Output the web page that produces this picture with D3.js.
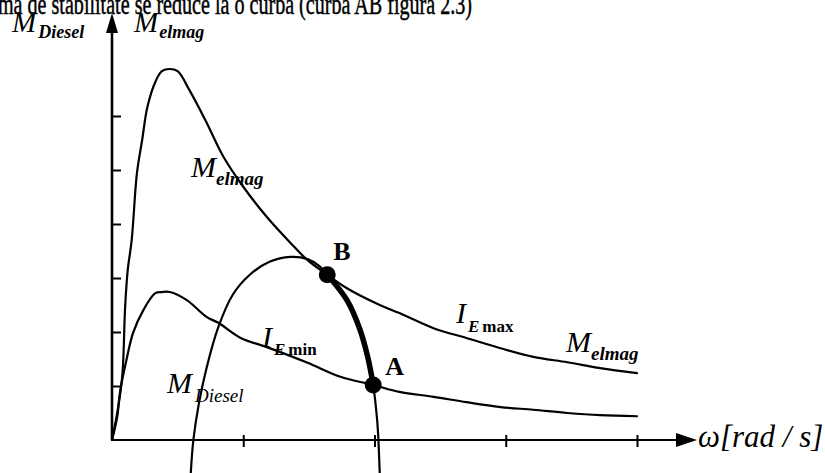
<!DOCTYPE html>
<html>
<head>
<meta charset="utf-8">
<script src="https://cdn.jsdelivr.net/npm/d3@7"></script>
<style>
  html, body { margin: 0; padding: 0; background: #fff; }
  svg { display: block; }
  text { font-family: "Liberation Serif", "Times New Roman", serif; fill: #000; }
</style>
</head>
<body>
<svg id="chart" width="825" height="473"></svg>
<script>
// Speed axis ticks (relative units) and torque axis ticks
const omegaTicks = [1, 2, 3, 4];
const torqueTicks = [1, 2, 3, 4, 5, 6];

// Electromagnetic torque at maximum excitation current (I_E max): [omega, M]
const elmagMax = [
  [0, 0], [0.05, 0.65], [0.08, 1.24], [0.10, 2.46], [0.12, 3.15], [0.15, 3.70],
  [0.19, 4.94], [0.23, 5.56], [0.27, 6.17], [0.33, 6.63], [0.38, 6.83], [0.44, 6.87],
  [0.50, 6.83], [0.59, 6.48], [0.71, 5.93], [0.85, 5.24], [1.00, 4.69], [1.18, 4.13],
  [1.36, 3.65], [1.49, 3.33], [1.64, 3.06], [1.79, 2.81], [2.04, 2.50], [2.19, 2.35],
  [2.45, 2.07], [2.70, 1.89], [2.96, 1.70], [3.21, 1.54], [3.47, 1.44], [3.72, 1.33],
  [4.00, 1.24]
];

// Electromagnetic torque at minimum excitation current (I_E min)
const elmagMin = [
  [0, 0], [0.04, 0.43], [0.06, 0.87], [0.11, 1.48], [0.16, 1.98], [0.24, 2.41],
  [0.33, 2.72], [0.38, 2.74], [0.44, 2.74], [0.57, 2.59], [0.72, 2.28], [0.81, 2.17],
  [0.98, 1.89], [1.18, 1.72], [1.49, 1.43], [1.74, 1.17], [1.99, 1.02], [2.19, 0.89],
  [2.45, 0.80], [2.70, 0.70], [2.96, 0.61], [3.21, 0.56], [3.47, 0.50], [3.72, 0.46],
  [4.00, 0.44]
];

// Diesel engine torque characteristic
const diesel = [
  [0.60, -0.62], [0.62, 0], [0.66, 0.65], [0.72, 1.33], [0.81, 2.09], [0.92, 2.69],
  [1.05, 3.06], [1.20, 3.30], [1.36, 3.39], [1.49, 3.35], [1.58, 3.22], [1.64, 3.06],
  [1.79, 2.59], [1.89, 2.04], [1.95, 1.52], [1.99, 1.02], [2.02, 0.37], [2.03, 0],
  [2.04, -0.62]
];

// Stable operating points: B (on I_E max) and A (on I_E min)
const pointB = [1.64, 3.06];
const pointA = [1.99, 1.02];

const svg = d3.select("#chart");

const x = d3.scaleLinear().domain([0, 4]).range([112, 637]);
const y = d3.scaleLinear().domain([0, 6]).range([440, 116]);

const line = d3.line()
  .x(d => x(d[0]))
  .y(d => y(d[1]))
  .curve(d3.curveCatmullRom.alpha(0.5));

// Heading line of the surrounding text (its top runs off the page)
svg.append("text")
  .attr("x", -2).attr("y", 14)
  .attr("font-size", 30)
  .attr("stroke", "#000").attr("stroke-width", 0.5)
  .attr("textLength", 474)
  .attr("lengthAdjust", "spacingAndGlyphs")
  .text("ma de stabilitate se reduce la o curba (curba AB figura 2.3)");

// Axes
const ax = svg.append("g").attr("stroke", "#000");
ax.append("line")
  .attr("x1", x(0)).attr("y1", y(0))
  .attr("x2", x(0)).attr("y2", 30)
  .attr("stroke-width", 2.6);
ax.append("path")
  .attr("d", `M${x(0)},13 L${x(0) - 6},33 L${x(0) + 6},33 Z`)
  .attr("fill", "#000").attr("stroke", "none");
ax.append("line")
  .attr("x1", x(0)).attr("y1", y(0))
  .attr("x2", 680).attr("y2", y(0))
  .attr("stroke-width", 2.2);
ax.append("path")
  .attr("d", `M697,${y(0)} L676,${y(0) - 7} L676,${y(0) + 7} Z`)
  .attr("fill", "#000").attr("stroke", "none");

// Tick marks
const yAxis = d3.axisRight(y).tickValues(torqueTicks).tickSize(10).tickFormat("");
const gy = svg.append("g").attr("transform", `translate(${x(0) - 1},0)`).call(yAxis);
gy.select(".domain").remove();
gy.selectAll(".tick line").attr("stroke", "#000").attr("stroke-width", 2);

const xAxis = d3.axisBottom(x).tickValues(omegaTicks).tickSize(12).tickFormat("");
const gx = svg.append("g").attr("transform", `translate(0,${y(0) - 5})`).call(xAxis);
gx.select(".domain").remove();
gx.selectAll(".tick line").attr("stroke", "#000").attr("stroke-width", 2);

// Curves
const curves = svg.append("g").attr("fill", "none").attr("stroke", "#000")
  .attr("stroke-linejoin", "round").attr("stroke-linecap", "round");
curves.append("path").attr("d", line(elmagMax)).attr("stroke-width", 2.2);
curves.append("path").attr("d", line(elmagMin)).attr("stroke-width", 2.2);
curves.append("path").attr("d", line(diesel)).attr("stroke-width", 2.2);

// Stable segment B–A along the diesel curve
const iB = diesel.findIndex(d => d[0] === pointB[0] && d[1] === pointB[1]);
const iA = diesel.findIndex(d => d[0] === pointA[0] && d[1] === pointA[1]);
curves.append("path").attr("d", line(diesel.slice(iB, iA + 1))).attr("stroke-width", 5.5);

svg.selectAll("circle.op").data([pointB, pointA]).join("circle")
  .attr("class", "op")
  .attr("cx", d => x(d[0])).attr("cy", d => y(d[1]))
  .attr("r", 8.5).attr("fill", "#000");

// Labels: main letter + subscript
function label(px, py, main, sub, opts) {
  const o = Object.assign({ size: 30, subSize: 19, dx: 0, dy: 8, subWeight: "bold", subStyle: "italic" }, opts || {});
  const t = svg.append("text").attr("x", px).attr("y", py)
    .attr("font-size", o.size).attr("font-style", "italic");
  t.append("tspan").text(main);
  if (sub) {
    t.append("tspan").attr("dx", o.dx).attr("dy", o.dy)
      .attr("font-size", o.subSize).attr("font-weight", o.subWeight)
      .attr("font-style", o.subStyle).text(sub);
  }
  return t;
}

label(12, 32, "M", "Diesel", { size: 29, dy: 6, dx: 2, subSize: 18 });
label(134, 32, "M", "elmag", { size: 29, dy: 6, dx: 1, subSize: 18 });
label(191, 177, "M", "elmag", { dy: 8, dx: 0 });
label(566, 352, "M", "elmag", { dy: 8, dx: 0 });
label(167, 393, "M", "Diesel", { dy: 9, dx: 3, subWeight: "normal", subSize: 19 });

// Excitation current labels
const iMax = svg.append("text").attr("x", 456).attr("y", 323).attr("font-size", 30).attr("font-style", "italic");
iMax.append("tspan").text("I");
iMax.append("tspan").attr("dx", 2).attr("dy", 9).attr("font-size", 17).attr("font-weight", "bold").text("E");
iMax.append("tspan").attr("dx", 3).attr("font-size", 17).attr("font-weight", "bold").attr("font-style", "normal").text("max");

const iMin = svg.append("text").attr("x", 262).attr("y", 347).attr("font-size", 30).attr("font-style", "italic");
iMin.append("tspan").text("I");
iMin.append("tspan").attr("dx", 2).attr("dy", 8).attr("font-size", 17).attr("font-weight", "bold").text("E");
iMin.append("tspan").attr("dx", 3).attr("font-size", 17).attr("font-weight", "bold").attr("font-style", "normal").text("min");

// Operating point names
svg.append("text").attr("x", x(pointB[0]) + 6).attr("y", y(pointB[1]) - 15)
  .attr("font-size", 26).attr("font-weight", "bold").text("B");
svg.append("text").attr("x", x(pointA[0]) + 12).attr("y", y(pointA[1]) - 10)
  .attr("font-size", 26).attr("font-weight", "bold").text("A");

// Speed axis title
svg.append("text").attr("x", 698).attr("y", 447)
  .attr("font-size", 31).attr("font-style", "italic").text("ω[rad / s]");
</script>
</body>
</html>
